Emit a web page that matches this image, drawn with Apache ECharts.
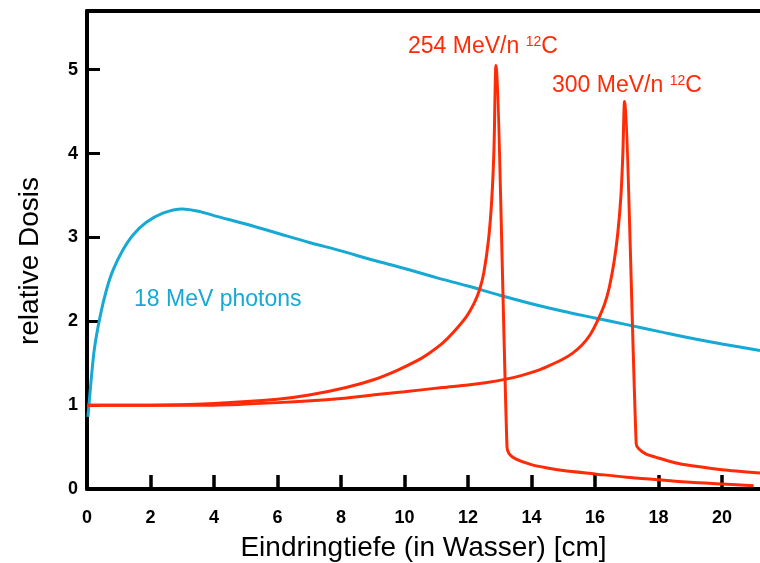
<!DOCTYPE html>
<html>
<head>
<meta charset="utf-8">
<script src="https://cdn.jsdelivr.net/npm/echarts@6/dist/echarts.min.js"></script>
<style>
html,body{margin:0;padding:0;background:#fff;}
#chart{width:760px;height:563px;}
</style>
</head>
<body>
<div id="chart"></div>
<script>
// ---- data ----
const xTicks = [0, 2, 4, 6, 8, 10, 12, 14, 16, 18, 20];
const yTicks = [0, 1, 2, 3, 4, 5];

const photonX = [0.03, 0.14, 0.24, 0.42, 0.61, 0.82, 1.13, 1.45, 1.87, 2.39, 3.0, 3.55, 4, 5, 6, 7, 8, 9, 10, 11, 12, 13, 14, 15, 16, 17, 18, 19, 20, 21.2];
const photonY = [0.86, 1.34, 1.69, 2.07, 2.37, 2.61, 2.85, 3.03, 3.18, 3.29, 3.34, 3.31, 3.26, 3.16, 3.05, 2.94, 2.84, 2.73, 2.63, 2.52, 2.42, 2.31, 2.21, 2.12, 2.04, 1.96, 1.88, 1.80, 1.73, 1.65];

const c254X = [0, 2, 4, 6, 7, 8.16, 9, 9.74, 10.4, 10.78, 11.2, 11.52, 11.94, 12.2, 12.36, 12.5, 12.65, 12.75, 12.82, 12.88, 13.23, 13.3, 13.5, 14, 14.5, 15, 16, 17, 18, 19, 20, 21];
const c254Y = [1.0, 1.0, 1.02, 1.07, 1.12, 1.21, 1.30, 1.41, 1.53, 1.62, 1.74, 1.86, 2.05, 2.22, 2.37, 2.58, 2.98, 3.45, 4.05, 5.05, 0.50, 0.42, 0.36, 0.29, 0.25, 0.22, 0.18, 0.14, 0.11, 0.08, 0.06, 0.04];

const c300X = [0, 2, 4, 6, 8, 9.21, 10, 11.2, 12, 12.6, 13.2, 13.7, 14.25, 14.56, 15, 15.3, 15.6, 15.85, 16.05, 16.3, 16.45, 16.6, 16.72, 16.82, 16.88, 16.93, 17.3, 17.38, 17.6, 18, 18.55, 19, 20, 21.2];
const c300Y = [1.0, 1.0, 1.0, 1.03, 1.08, 1.13, 1.16, 1.21, 1.24, 1.27, 1.31, 1.355, 1.42, 1.47, 1.55, 1.62, 1.72, 1.84, 1.98, 2.20, 2.40, 2.70, 3.05, 3.50, 4.00, 4.62, 0.54, 0.48, 0.42, 0.37, 0.31, 0.28, 0.23, 0.19];

const labels = {
  photon: '18 MeV photons',
  c254: ['254 MeV/n ', '12', 'C'],
  c300: ['300 MeV/n ', '12', 'C']
};
const xName = 'Eindringtiefe (in Wasser) [cm]';
const yName = 'relative Dosis';

const RED = '#ff2b06';
const BLUE = '#16a9d3';
const FONT = 'Liberation Sans, Arial, sans-serif';

function zip(xs, ys) { return xs.map((x, i) => [x, ys[i]]); }

const chart = echarts.init(document.getElementById('chart'), null, {renderer: 'canvas'});

const axisLineStyle = {color: '#000', width: 4};

function richLabel(parts) {
  return '{m|' + parts[0] + '}{s|' + parts[1] + '}{m|' + parts[2] + '}';
}
const richStyle = {
  m: {fontSize: 23, fontFamily: FONT, fill: RED, color: RED, lineHeight: 26, verticalAlign: 'bottom'},
  s: {fontSize: 14, fontFamily: FONT, fill: RED, color: RED, lineHeight: 26, verticalAlign: 'top', padding: [3, 0, 0, 0]}
};

chart.setOption({
  animation: false,
  backgroundColor: '#fff',
  grid: {left: 87, right: 0, top: 11, bottom: 74, containLabel: false, outerBoundsMode: 'none'},
  xAxis: [{
    type: 'value', min: 0, max: 21.2, interval: 2,
    name: xName, nameLocation: 'middle', nameGap: 45,
    nameTextStyle: {fontSize: 28, fontFamily: FONT, color: '#000', verticalAlign: 'top'},
    axisLine: {show: true, onZero: false, lineStyle: axisLineStyle},
    axisTick: {show: true, inside: true, length: 14, lineStyle: {color: '#000', width: 3.5}},
    axisLabel: {margin: 20, fontSize: 18, fontWeight: 'bold', fontFamily: FONT, color: '#000',
      showMaxLabel: false,
      formatter: v => xTicks.includes(v) ? String(v) : ''},
    splitLine: {show: false}
  }, {
    type: 'value', position: 'top', min: 0, max: 21.2,
    axisLine: {show: true, onZero: false, lineStyle: axisLineStyle},
    axisTick: {show: false}, axisLabel: {show: false}, splitLine: {show: false}
  }],
  yAxis: {
    type: 'value', min: 0, max: 5.7, interval: 1,
    axisLine: {show: true, onZero: false, lineStyle: axisLineStyle},
    axisTick: {show: true, inside: true, length: 13, lineStyle: {color: '#000', width: 3}},
    axisLabel: {margin: 9, fontSize: 18, fontWeight: 'bold', fontFamily: FONT, color: '#000',
      showMaxLabel: false,
      formatter: v => yTicks.includes(v) ? String(v) : ''},
    splitLine: {show: false}
  },
  series: [
    {type: 'line', name: 'photons', data: zip(photonX, photonY), showSymbol: false,
     smooth: 0.3, lineStyle: {color: BLUE, width: 3}, z: 3},
    {type: 'line', name: '254', data: zip(c254X, c254Y), showSymbol: false,
     smooth: 0.25, lineStyle: {color: RED, width: 3}, z: 4},
    {type: 'line', name: '300', data: zip(c300X, c300Y), showSymbol: false,
     smooth: 0.25, lineStyle: {color: RED, width: 3}, z: 4}
  ],
  graphic: [
    {type: 'text', x: 30, y: 261, rotation: Math.PI / 2, z: 10,
     style: {text: yName, fontSize: 28, fontFamily: FONT, fill: '#000', align: 'center', verticalAlign: 'middle'}},
    {type: 'text', left: 134, top: 288, z: 10,
     style: {text: labels.photon, fontSize: 23, fontFamily: FONT, fill: BLUE}},
    {type: 'text', left: 408, top: 32, z: 10,
     style: {text: richLabel(labels.c254), rich: richStyle}},
    {type: 'text', left: 552, top: 71, z: 10,
     style: {text: richLabel(labels.c300), rich: richStyle}}
  ]
});
</script>
</body>
</html>
